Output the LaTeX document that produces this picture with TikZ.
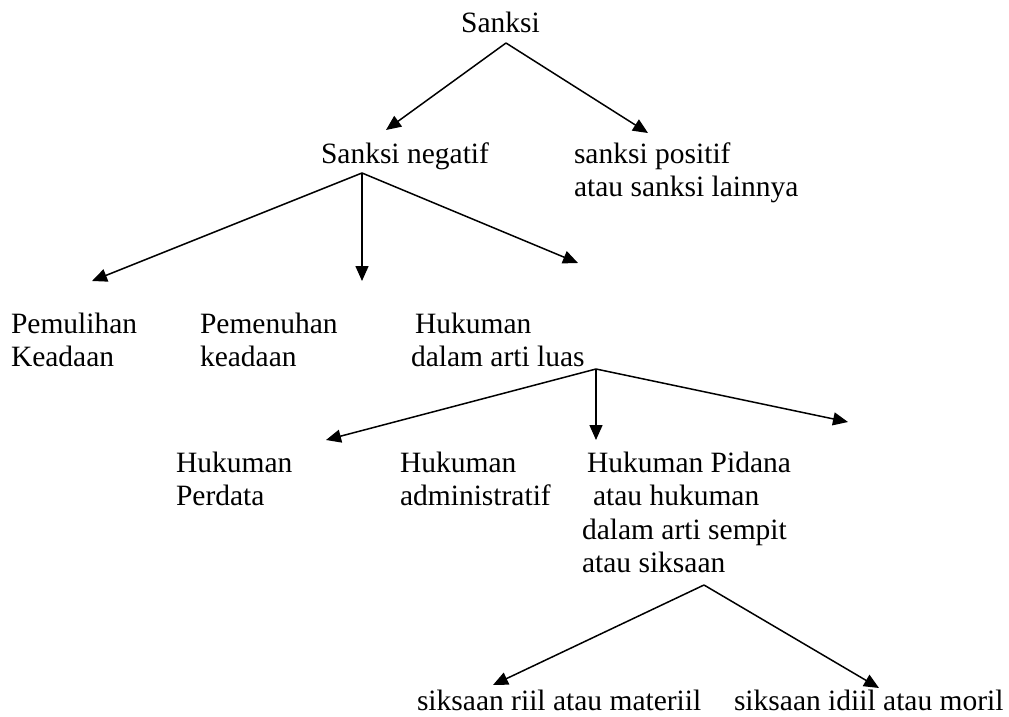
\documentclass[tikz,border=0pt]{standalone}
\usepackage{fontspec}
\setmainfont{Liberation Serif}
\usepackage{tikz}
\usetikzlibrary{arrows.meta, positioning}

\begin{document}
\begin{tikzpicture}[
  x=1pt, y=-1pt,
  every node/.style={font=\fontsize{29.5}{33.6}\selectfont, inner sep=0pt, outer sep=0pt},
  lbl/.style={anchor=base west, align=left},
  top/.style={anchor=base},
  arr/.style={draw=black, line width=1.5pt, -{Triangle[length=15pt, width=13pt]}},
]
  \useasboundingbox (0,0) rectangle (1009,717);

  % labels (placed at the baseline of their last line)
  \node[top] (sanksi) at (500.5,33) {Sanksi};
  \node[lbl] (negatif) at (321,163) {Sanksi negatif};
  \node[lbl] (positif) at (574,196.6) {sanksi positif\\atau sanksi lainnya};
  \node[lbl] (pemulihan) at (11,366.6) {Pemulihan\\Keadaan};
  \node[lbl] (pemenuhan) at (200,366.6) {Pemenuhan\\keadaan};
  \node[lbl] (hukuman) at (411,366.6) {\hspace*{4pt}Hukuman\\dalam arti luas};
  \node[lbl] (perdata) at (176,505.6) {Hukuman\\Perdata};
  \node[lbl] (admin) at (400,505.6) {Hukuman\\administratif};
  \node[lbl] (pidana) at (582,572.8) {\hspace*{5pt}Hukuman Pidana\\\hspace*{11pt}atau hukuman\\dalam arti sempit\\atau siksaan};
  \node[lbl] (riil) at (417,710) {siksaan riil atau materiil};
  \node[lbl] (idiil) at (734,710) {siksaan idiil atau moril};

  % fork points
  \coordinate (forkA) at (506,43);
  \coordinate (forkB) at (362,173);
  \coordinate (forkC) at (596,369);
  \coordinate (forkD) at (704,585);

  % arrow tips
  \coordinate (negatif-tip) at (386,130);
  \coordinate (positif-tip) at (648,133);
  \coordinate (pemulihan-tip) at (92,281);
  \coordinate (pemenuhan-tip) at (362,281);
  \coordinate (hukuman-tip) at (578,263);
  \coordinate (perdata-tip) at (326,440);
  \coordinate (admin-tip) at (596,440);
  \coordinate (pidana-tip) at (848,422);
  \coordinate (riil-tip) at (493,685);
  \coordinate (idiil-tip) at (879,688);

  \draw[arr] (forkA) -- (negatif-tip);
  \draw[arr] (forkA) -- (positif-tip);
  \draw[arr] (forkB) -- (pemulihan-tip);
  \draw[arr] (forkB) -- (pemenuhan-tip);
  \draw[arr] (forkB) -- (hukuman-tip);
  \draw[arr] (forkC) -- (perdata-tip);
  \draw[arr] (forkC) -- (admin-tip);
  \draw[arr] (forkC) -- (pidana-tip);
  \draw[arr] (forkD) -- (riil-tip);
  \draw[arr] (forkD) -- (idiil-tip);
\end{tikzpicture}
\end{document}
